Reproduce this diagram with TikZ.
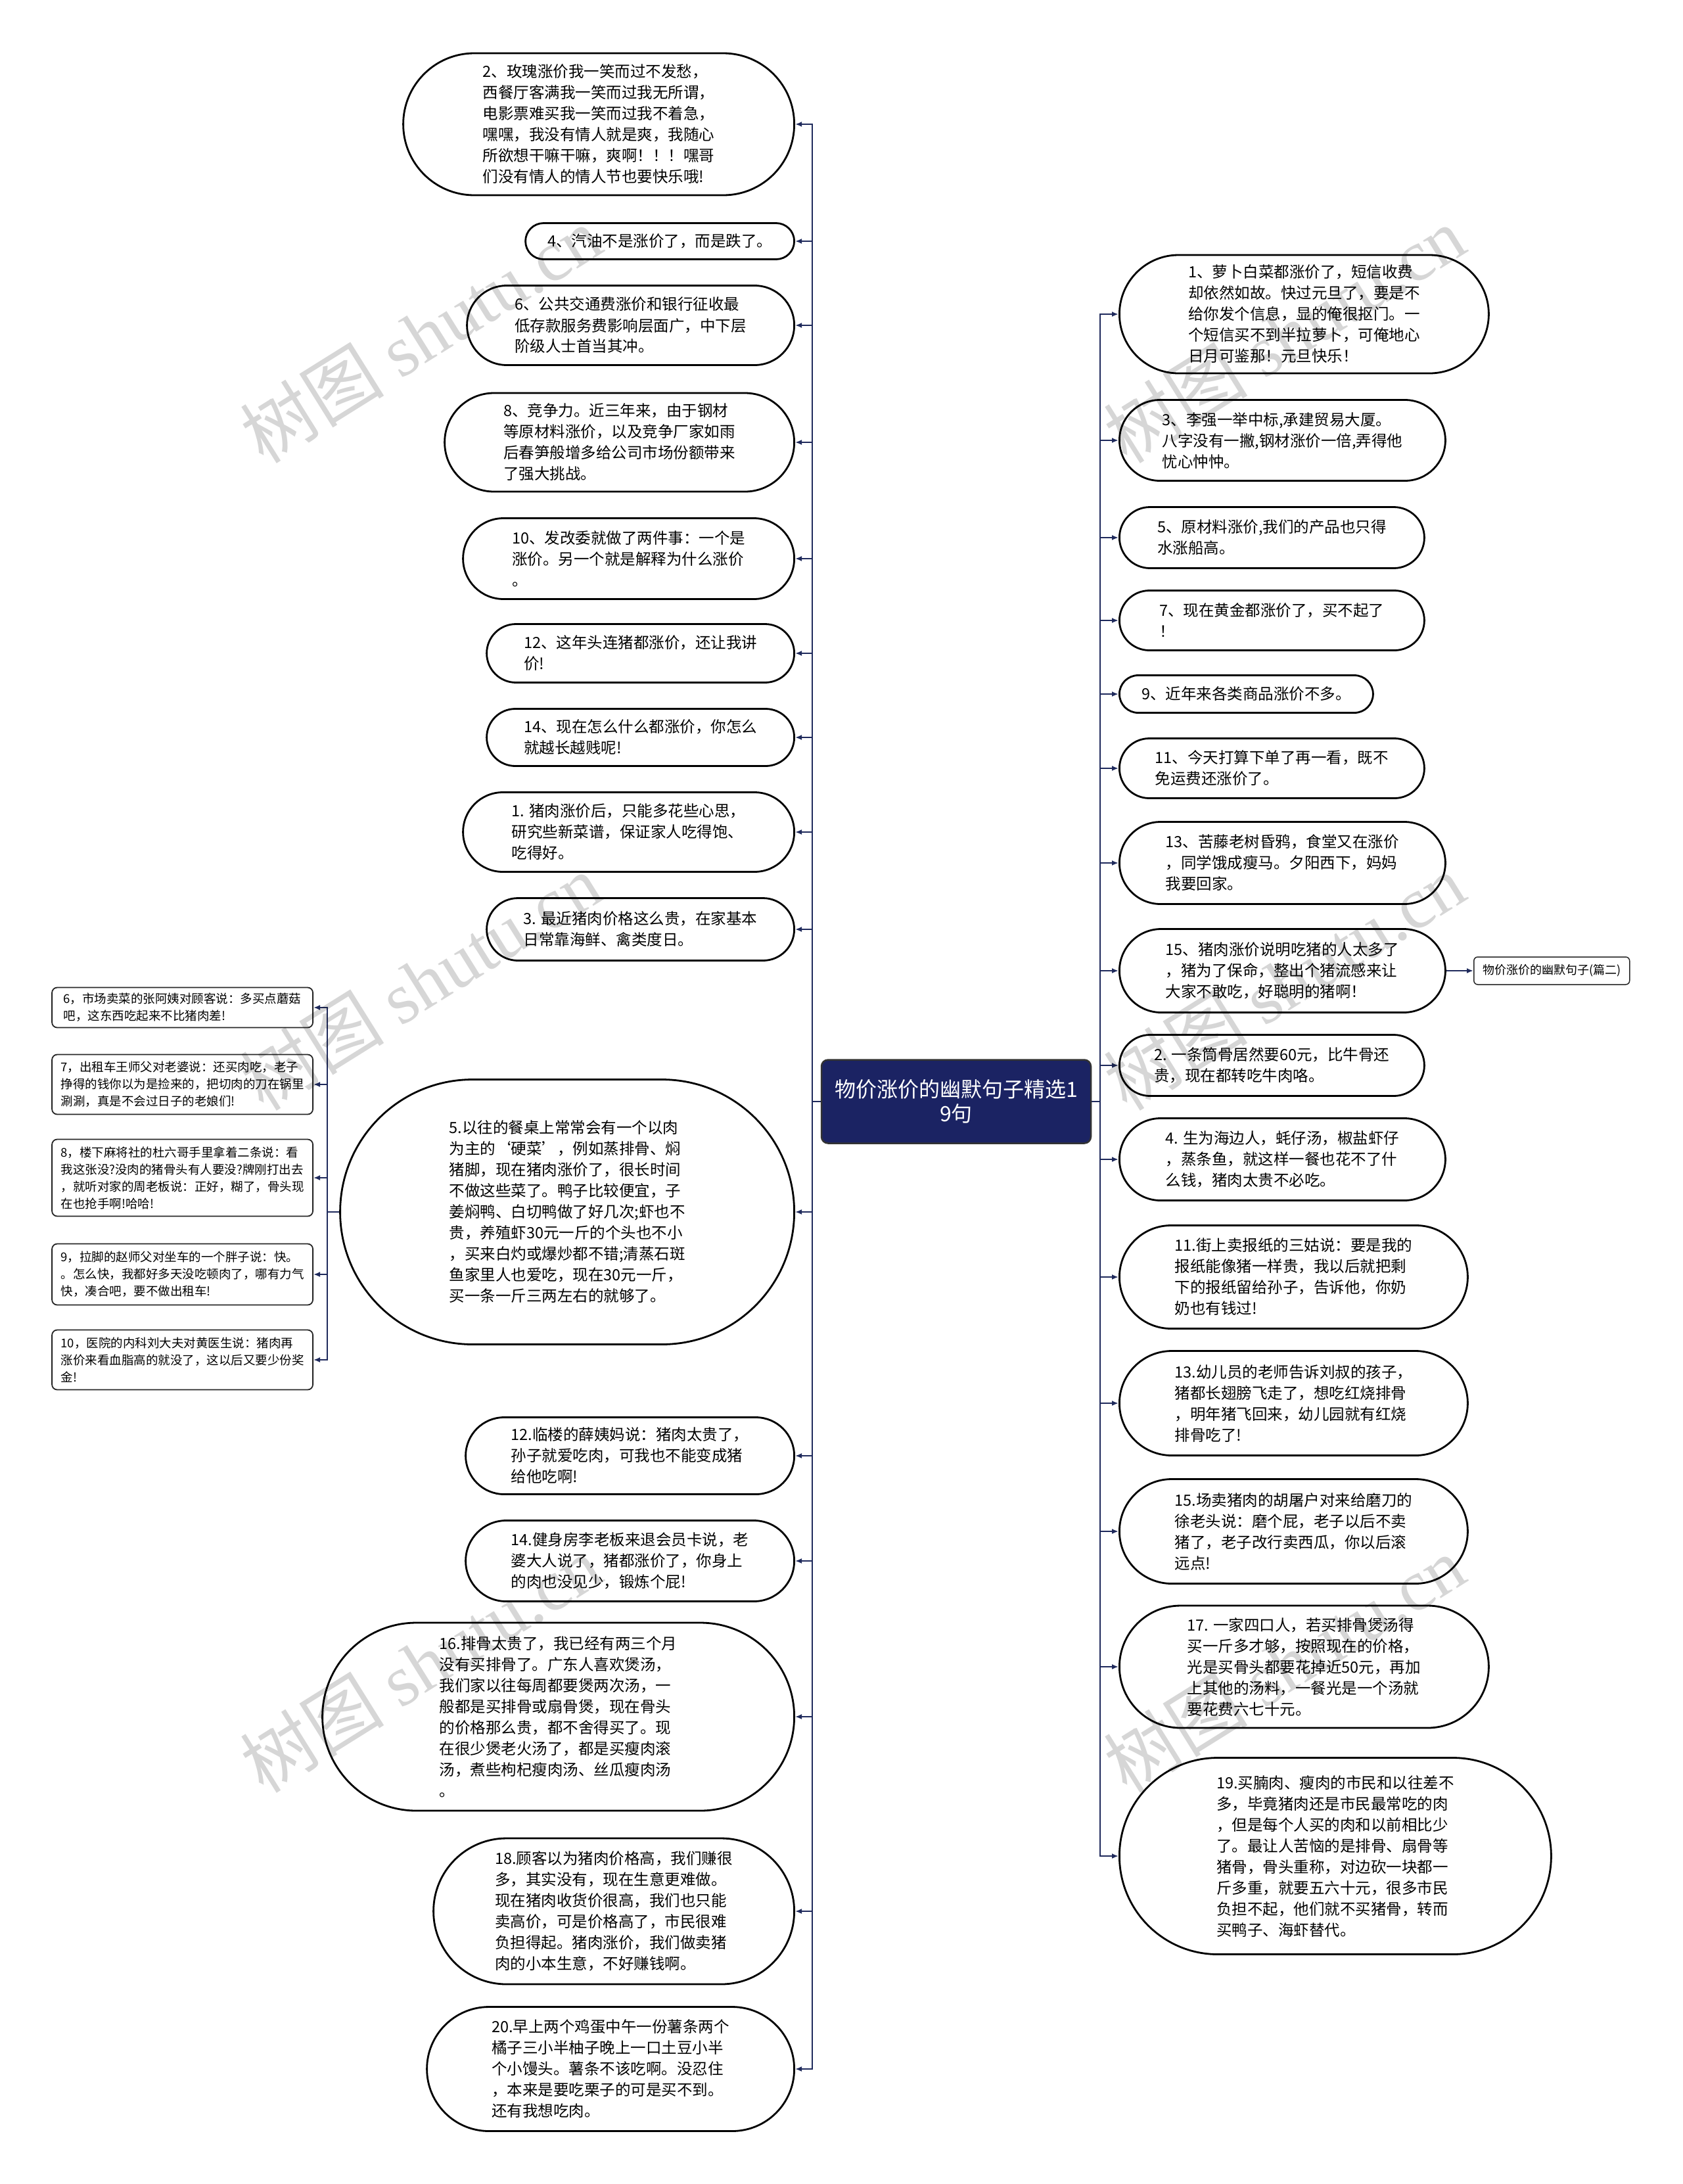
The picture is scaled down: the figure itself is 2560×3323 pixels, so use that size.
\documentclass[tikz,border=0pt]{standalone}
\usepackage{fontspec}
\setmainfont{Noto Sans CJK SC}
\newfontfamily\wmfont{Liberation Serif}
\usetikzlibrary{arrows.meta}
\definecolor{topicblue}{HTML}{1B2363}
\definecolor{linkblue}{HTML}{1F2A5C}

\begin{document}
\begin{tikzpicture}[x=1pt, y=-1pt,
	topic/.style={rectangle, rounded corners=10pt, draw=black!80, line width=2.5pt, fill=topicblue, text=white, align=center, font=\fontsize{32}{37.5}\selectfont, minimum width=410pt, minimum height=127pt},
	leaf/.style 2 args={rectangle, rounded corners=#2pt/2, draw=black, line width=2.8pt, fill=white, align=left, font=\fontsize{23.5}{32}\selectfont, minimum width=#1pt, minimum height=#2pt, inner sep=2pt},
	note/.style={rectangle, rounded corners=8pt, draw=black!85, line width=1.8pt, fill=white, align=left, font=\fontsize{18.5}{26}\selectfont, minimum width=397pt, minimum height=#1pt, inner sep=2pt},
	sidebox/.style={rectangle, rounded corners=6pt, draw=black!85, line width=1.5pt, fill=white, font=\fontsize{18}{22}\selectfont, minimum width=237pt, minimum height=42pt, inner sep=2pt},
	link/.style={draw=linkblue, line width=2.2pt, -{Latex[length=10pt,width=8pt]}},
	wmark/.style={rotate=32, text=black, text opacity=0.16, font=\fontsize{110}{110}\selectfont}]
	\fill[white] (0,0) rectangle (2560,3323);
	\useasboundingbox (0,0) rectangle (2560,3323);
	\coordinate (ltrunk) at (1236,0);
	\coordinate (rtrunk) at (1674,0);
	\coordinate (strunk) at (498,0);

	\node[topic] (root) at (1455,1676) {物价涨价的幽默句子精选1\\9句};

	\node[leaf={595}{216}, anchor=east] (l1) at (1210,189) {2、玫瑰涨价我一笑而过不发愁，\\西餐厅客满我一笑而过我无所谓，\\电影票难买我一笑而过我不着急，\\嘿嘿，我没有情人就是爽，我随心\\所欲想干嘛干嘛，爽啊！！！嘿哥\\们没有情人的情人节也要快乐哦!};
	\node[leaf={409}{55}, anchor=east] (l2) at (1210,367) {4、汽油不是涨价了，而是跌了。};
	\node[leaf={498}{121}, anchor=east] (l3) at (1210,495) {6、公共交通费涨价和银行征收最\\低存款服务费影响层面广，中下层\\阶级人士首当其冲。};
	\node[leaf={532}{150}, anchor=east] (l4) at (1210,673) {8、竞争力。近三年来，由于钢材\\等原材料涨价，以及竞争厂家如雨\\后春笋般增多给公司市场份额带来\\了强大挑战。};
	\node[leaf={504}{123}, anchor=east] (l5) at (1210,850) {10、发改委就做了两件事：一个是\\涨价。另一个就是解释为什么涨价\\。};
	\node[leaf={468}{89}, anchor=east] (l6) at (1210,994) {12、这年头连猪都涨价，还让我讲\\价!};
	\node[leaf={468}{87}, anchor=east] (l7) at (1210,1122) {14、现在怎么什么都涨价，你怎么\\就越长越贱呢!};
	\node[leaf={504}{121}, anchor=east] (l8) at (1210,1266) {1. 猪肉涨价后，只能多花些心思，\\研究些新菜谱，保证家人吃得饱、\\吃得好。};
	\node[leaf={468}{95}, anchor=east] (l9) at (1210,1414) {3. 最近猪肉价格这么贵，在家基本\\日常靠海鲜、禽类度日。};
	\node[leaf={691}{403}, anchor=east] (l10) at (1210,1844) {5.以往的餐桌上常常会有一个以肉\\为主的‘硬菜’，例如蒸排骨、焖\\猪脚，现在猪肉涨价了，很长时间\\不做这些菜了。鸭子比较便宜，子\\姜焖鸭、白切鸭做了好几次;虾也不\\贵，养殖虾30元一斤的个头也不小\\，买来白灼或爆炒都不错;清蒸石斑\\鱼家里人也爱吃，现在30元一斤，\\买一条一斤三两左右的就够了。};
	\node[leaf={500}{117}, anchor=east] (l11) at (1210,2215) {12.临楼的薛姨妈说：猪肉太贵了，\\孙子就爱吃肉，可我也不能变成猪\\给他吃啊!};
	\node[leaf={500}{123}, anchor=east] (l12) at (1210,2375) {14.健身房李老板来退会员卡说，老\\婆大人说了，猪都涨价了，你身上\\的肉也没见少，锻炼个屁!};
	\node[leaf={718}{286}, anchor=east] (l13) at (1210,2612) {16.排骨太贵了，我已经有两三个月\\没有买排骨了。广东人喜欢煲汤，\\我们家以往每周都要煲两次汤，一\\般都是买排骨或扇骨煲，现在骨头\\的价格那么贵，都不舍得买了。现\\在很少煲老火汤了，都是买瘦肉滚\\汤，煮些枸杞瘦肉汤、丝瓜瘦肉汤\\。};
	\node[leaf={549}{222}, anchor=east] (l14) at (1210,2908) {18.顾客以为猪肉价格高，我们赚很\\多，其实没有，现在生意更难做。\\现在猪肉收货价很高，我们也只能\\卖高价，可是价格高了，市民很难\\负担得起。猪肉涨价，我们做卖猪\\肉的小本生意，不好赚钱啊。};
	\node[leaf={559}{189}, anchor=east] (l15) at (1210,3148) {20.早上两个鸡蛋中午一份薯条两个\\橘子三小半柚子晚上一口土豆小半\\个小馒头。薯条不该吃啊。没忍住\\，本来是要吃栗子的可是买不到。\\还有我想吃肉。};

	\node[note=61, anchor=east] (s1) at (477,1533) {6，市场卖菜的张阿姨对顾客说：多买点蘑菇\\吧，这东西吃起来不比猪肉差!};
	\node[note=91, anchor=east] (s2) at (477,1650) {7，出租车王师父对老婆说：还买肉吃，老子\\挣得的钱你以为是捡来的，把切肉的刀在锅里\\涮涮，真是不会过日子的老娘们!};
	\node[note=117, anchor=east] (s3) at (477,1792) {8，楼下麻将社的杜六哥手里拿着二条说：看\\我这张没?没肉的猪骨头有人要没?牌刚打出去\\，就听对家的周老板说：正好，糊了，骨头现\\在也抢手啊!哈哈!};
	\node[note=93, anchor=east] (s4) at (477,1939) {9，拉脚的赵师父对坐车的一个胖子说：快。\\。怎么快，我都好多天没吃顿肉了，哪有力气\\快，凑合吧，要不做出租车!};
	\node[note=91, anchor=east] (s5) at (477,2069) {10，医院的内科刘大夫对黄医生说：猪肉再\\涨价来看血脂高的就没了，这以后又要少份奖\\金!};

	\node[leaf={562}{180}, anchor=west] (r1) at (1702,478) {1、萝卜白菜都涨价了，短信收费\\却依然如故。快过元旦了，要是不\\给你发个信息，显的俺很抠门。一\\个短信买不到半拉萝卜，可俺地心\\日月可鉴那！元旦快乐！};
	\node[leaf={496}{123}, anchor=west] (r2) at (1702,670) {3、李强一举中标,承建贸易大厦。\\八字没有一撇,钢材涨价一倍,弄得他\\忧心忡忡。};
	\node[leaf={464}{93}, anchor=west] (r3) at (1702,818) {5、原材料涨价,我们的产品也只得\\水涨船高。};
	\node[leaf={464}{91}, anchor=west] (r4) at (1702,944) {7、现在黄金都涨价了，买不起了\\！};
	\node[leaf={386}{57}, anchor=west] (r5) at (1702,1056) {9、近年来各类商品涨价不多。};
	\node[leaf={464}{91}, anchor=west] (r6) at (1702,1169) {11、今天打算下单了再一看，既不\\免运费还涨价了。};
	\node[leaf={496}{125}, anchor=west] (r7) at (1702,1313) {13、苦藤老树昏鸦，食堂又在涨价\\，同学饿成瘦马。夕阳西下，妈妈\\我要回家。};
	\node[leaf={496}{127}, anchor=west] (r8) at (1702,1477) {15、猪肉涨价说明吃猪的人太多了\\，猪为了保命，整出个猪流感来让\\大家不敢吃，好聪明的猪啊！};
	\node[leaf={464}{93}, anchor=west] (r9) at (1702,1621) {2. 一条筒骨居然要60元，比牛骨还\\贵，现在都转吃牛肉咯。};
	\node[leaf={496}{125}, anchor=west] (r10) at (1702,1764) {4. 生为海边人，蚝仔汤，椒盐虾仔\\，蒸条鱼，就这样一餐也花不了什\\么钱，猪肉太贵不必吃。};
	\node[leaf={530}{157}, anchor=west] (r11) at (1702,1943) {11.街上卖报纸的三姑说：要是我的\\报纸能像猪一样贵，我以后就把剩\\下的报纸留给孙子，告诉他，你奶\\奶也有钱过!};
	\node[leaf={530}{159}, anchor=west] (r12) at (1702,2135) {13.幼儿员的老师告诉刘叔的孩子，\\猪都长翅膀飞走了，想吃红烧排骨\\，明年猪飞回来，幼儿园就有红烧\\排骨吃了!};
	\node[leaf={530}{159}, anchor=west] (r13) at (1702,2330) {15.场卖猪肉的胡屠户对来给磨刀的\\徐老头说：磨个屁，老子以后不卖\\猪了，老子改行卖西瓜，你以后滚\\远点!};
	\node[leaf={562}{186}, anchor=west] (r14) at (1702,2536) {17. 一家四口人，若买排骨煲汤得\\买一斤多才够，按照现在的价格，\\光是买骨头都要花掉近50元，再加\\上其他的汤料，一餐光是一个汤就\\要花费六七十元。};
	\node[leaf={657}{299}, anchor=west] (r15) at (1702,2824) {19.买腩肉、瘦肉的市民和以往差不\\多，毕竟猪肉还是市民最常吃的肉\\，但是每个人买的肉和以前相比少\\了。最让人苦恼的是排骨、扇骨等\\猪骨，骨头重称，对边砍一块都一\\斤多重，就要五六十元，很多市民\\负担不起，他们就不买猪骨，转而\\买鸭子、海虾替代。};

	\node[sidebox, anchor=west] (side) at (2242,1477) {物价涨价的幽默句子(篇二)};

	\draw[link] (root.west) -- (root.west -| ltrunk) |- (l1.east);
	\draw[link] (root.west) -- (root.west -| ltrunk) |- (l2.east);
	\draw[link] (root.west) -- (root.west -| ltrunk) |- (l3.east);
	\draw[link] (root.west) -- (root.west -| ltrunk) |- (l4.east);
	\draw[link] (root.west) -- (root.west -| ltrunk) |- (l5.east);
	\draw[link] (root.west) -- (root.west -| ltrunk) |- (l6.east);
	\draw[link] (root.west) -- (root.west -| ltrunk) |- (l7.east);
	\draw[link] (root.west) -- (root.west -| ltrunk) |- (l8.east);
	\draw[link] (root.west) -- (root.west -| ltrunk) |- (l9.east);
	\draw[link] (root.west) -- (root.west -| ltrunk) |- (l10.east);
	\draw[link] (root.west) -- (root.west -| ltrunk) |- (l11.east);
	\draw[link] (root.west) -- (root.west -| ltrunk) |- (l12.east);
	\draw[link] (root.west) -- (root.west -| ltrunk) |- (l13.east);
	\draw[link] (root.west) -- (root.west -| ltrunk) |- (l14.east);
	\draw[link] (root.west) -- (root.west -| ltrunk) |- (l15.east);

	\draw[link] (l10.west) -- (l10.west -| strunk) |- (s1.east);
	\draw[link] (l10.west) -- (l10.west -| strunk) |- (s2.east);
	\draw[link] (l10.west) -- (l10.west -| strunk) |- (s3.east);
	\draw[link] (l10.west) -- (l10.west -| strunk) |- (s4.east);
	\draw[link] (l10.west) -- (l10.west -| strunk) |- (s5.east);

	\draw[link] (root.east) -- (root.east -| rtrunk) |- (r1.west);
	\draw[link] (root.east) -- (root.east -| rtrunk) |- (r2.west);
	\draw[link] (root.east) -- (root.east -| rtrunk) |- (r3.west);
	\draw[link] (root.east) -- (root.east -| rtrunk) |- (r4.west);
	\draw[link] (root.east) -- (root.east -| rtrunk) |- (r5.west);
	\draw[link] (root.east) -- (root.east -| rtrunk) |- (r6.west);
	\draw[link] (root.east) -- (root.east -| rtrunk) |- (r7.west);
	\draw[link] (root.east) -- (root.east -| rtrunk) |- (r8.west);
	\draw[link] (root.east) -- (root.east -| rtrunk) |- (r9.west);
	\draw[link] (root.east) -- (root.east -| rtrunk) |- (r10.west);
	\draw[link] (root.east) -- (root.east -| rtrunk) |- (r11.west);
	\draw[link] (root.east) -- (root.east -| rtrunk) |- (r12.west);
	\draw[link] (root.east) -- (root.east -| rtrunk) |- (r13.west);
	\draw[link] (root.east) -- (root.east -| rtrunk) |- (r14.west);
	\draw[link] (root.east) -- (root.east -| rtrunk) |- (r15.west);

	\draw[link] (r8.east) -- (side.west);

	\node[wmark] (wm1) at (640,509) {树图 {\wmfont shutu.cn}};
	\node[wmark] (wm2) at (640,1494) {树图 {\wmfont shutu.cn}};
	\node[wmark] (wm3) at (640,2532) {树图 {\wmfont shutu.cn}};
	\node[wmark] (wm4) at (1954,509) {树图 {\wmfont shutu.cn}};
	\node[wmark] (wm5) at (1954,1494) {树图 {\wmfont shutu.cn}};
	\node[wmark] (wm6) at (1954,2532) {树图 {\wmfont shutu.cn}};
\end{tikzpicture}
\end{document}
